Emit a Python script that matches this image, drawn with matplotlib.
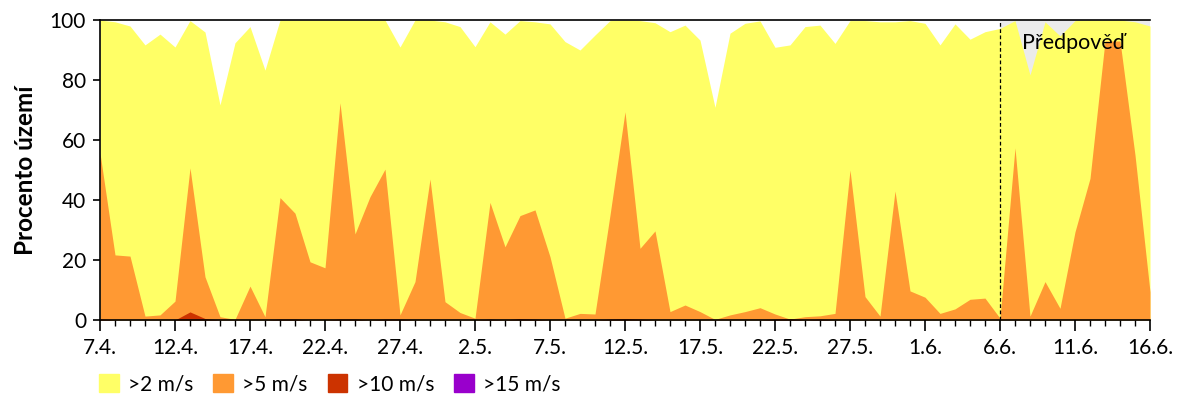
import numpy as np
import matplotlib.pyplot as plt
from matplotlib.patches import Patch

plt.rcParams['font.family'] = ['Lato', 'DejaVu Sans']

# percent of territory with wind speed above threshold, daily 7.4. - 16.6.
over_2 = [100, 99.4, 98, 91.7, 95.3, 91, 99.8, 96, 71.7, 92.4,
          97.8, 83.3, 100, 100, 100, 100, 100, 100, 100, 100,
          91, 100, 100, 99.4, 97.8, 91.1, 99.4, 95.3, 99.8, 99.4,
          98.7, 92.8, 90, 95, 99.8, 100, 99.8, 99.1, 96.1, 98.3,
          93.3, 70.9, 95.6, 98.9, 99.7, 90.9, 91.7, 97.8, 98.3, 92.2,
          99.8, 99.8, 99.4, 99.4, 99.8, 98.9, 91.7, 98.7, 93.6, 96.1,
          97.2, 99.8, 81.7, 99.4, 94.7, 99.8, 100, 100, 100, 99.4, 98]
over_5 = [55.6, 21.7, 21.3, 1.3, 1.7, 6.3, 50.7, 14.4, 1.1, 0.2,
          11.3, 1.1, 40.8, 35.6, 19.4, 17.4, 72.4, 28.7, 41.1, 50.3,
          1.7, 12.8, 47, 6.1, 2.5, 0.6, 39.2, 24.4, 34.8, 36.7,
          21.1, 0.6, 2.2, 2.0, 35, 69.4, 23.9, 29.7, 2.8, 5,
          2.8, 0.2, 1.7, 2.8, 4.1, 2.0, 0.3, 1.1, 1.4, 2.2,
          50, 7.8, 1.3, 43, 9.7, 7.6, 2.2, 3.7, 6.9, 7.3,
          0.6, 57.4, 1.3, 12.8, 3.9, 29.4, 47.2, 93, 93, 55, 9.4]
over_10 = [0.4, 0, 0, 0, 0, 0, 2.7, 0.5, 0, 0,
           0, 0, 0.3, 0.3, 0, 0, 0.3, 0.3, 0, 0.3,
           0.3, 0, 0, 0, 0, 0, 0.3, 0, 0.5, 0.3,
           0, 0, 0, 0, 0.3, 0.5, 0.3, 0, 0, 0,
           0, 0, 0, 0, 0, 0.3, 0.5, 0, 0.3, 0,
           0, 0, 0, 0, 0, 0, 0, 0, 0, 0,
           0, 0, 0, 0, 0, 0, 0, 0, 0, 0, 0]
over_15 = [0] * 71

tick_labels = ['7.4.', '12.4.', '17.4.', '22.4.', '27.4.', '2.5.', '7.5.', '12.5.',
               '17.5.', '22.5.', '27.5.', '1.6.', '6.6.', '11.6.', '16.6.']
forecast_start = 60  # 6.6.

days = np.arange(len(over_2))

fig = plt.figure(figsize=(12, 4), dpi=100)
ax = fig.add_axes([100 / 1200, 80 / 400, 1050 / 1200, 300 / 400])

ax.axvspan(forecast_start, days[-1], color='#EBEBEB', zorder=0, lw=0)

colors = ['#FFFF66', '#FF9933', '#CC3300', '#9900CC']
labels = ['>2 m/s', '>5 m/s', '>10 m/s', '>15 m/s']
for vals, c in zip([over_2, over_5, over_10, over_15], colors):
    ax.fill_between(days, 0, vals, color=c, lw=0, zorder=1)

ax.axvline(forecast_start, color='black', ls=(0, (3, 2)), lw=0.9, zorder=3)
ax.text(64.9, 92.3, 'Předpověď', fontsize=15.5, ha='center', va='center', zorder=4)

ax.set_xlim(0, days[-1])
ax.set_ylim(0, 100)
ax.set_xticks(np.arange(0, 71, 5))
ax.set_xticklabels(tick_labels)
ax.set_xticks(days, minor=True)
ax.set_yticks([0, 20, 40, 60, 80, 100])
ax.tick_params(axis='both', which='major', labelsize=15, direction='out', width=1.2)
ax.tick_params(axis='x', which='major', length=8, pad=5)
ax.tick_params(axis='x', which='minor', length=4, width=1)
ax.tick_params(axis='y', which='major', length=5, pad=5)
ax.spines['right'].set_visible(False)
for s in ['left', 'bottom', 'top']:
    ax.spines[s].set_linewidth(1.2)
    ax.spines[s].set_zorder(5)

ax.set_ylabel('Procento území', fontsize=17.5, fontweight='bold', labelpad=9)

handles = [Patch(color=c) for c in colors]
fig.legend(handles, labels, loc='center left', bbox_to_anchor=(99 / 1200, 1 - 384 / 400),
           ncol=4, frameon=False, fontsize=15, handlelength=0.95, handleheight=0.95,
           handletextpad=0.45, columnspacing=0.95, borderaxespad=0, borderpad=0)

fig.savefig('out.png', dpi=100)
